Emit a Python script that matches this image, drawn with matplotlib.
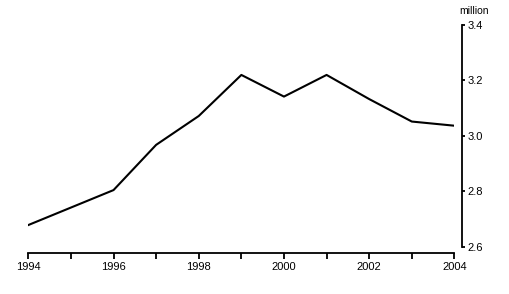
import matplotlib
matplotlib.use("Agg")
import matplotlib.pyplot as plt

# -----------------------------
# Data
# -----------------------------
years = [1994, 1995, 1996, 1997, 1998, 1999, 2000, 2001, 2002, 2003, 2004]
values = [2.679, 2.742, 2.805, 2.968, 3.072, 3.220, 3.142, 3.220, 3.133, 3.052, 3.037]
year_labels = ["1994", "", "1996", "", "1998", "", "2000", "", "2002", "", "2004"]
y_ticks = [2.6, 2.8, 3.0, 3.2, 3.4]

plt.rcParams["font.family"] = ["Liberation Sans", "DejaVu Sans"]

fig = plt.figure(figsize=(5.10, 2.94), dpi=100)
ax = fig.add_axes([0.0555, 0.160, 0.8355, 0.755])

ax.plot(years, values, color="black", linewidth=1.5)

ax.set_xlim(1994, 2004)
ax.set_ylim(2.6, 3.4)

# Spines: bottom and right only, offset from the data area
ax.spines["top"].set_visible(False)
ax.spines["left"].set_visible(False)
ax.spines["bottom"].set_position(("outward", 4.3))
ax.spines["right"].set_position(("outward", 5.5))
ax.spines["bottom"].set_linewidth(1.3)
ax.spines["right"].set_linewidth(1.3)

ax.set_xticks(years)
ax.set_xticklabels(year_labels)
ax.tick_params(axis="x", direction="out", length=4.5, width=1.3, labelsize=8, pad=2)

ax.yaxis.tick_right()
ax.set_yticks(y_ticks)
ax.set_yticklabels([f"{v:.1f}" for v in y_ticks])
ax.tick_params(axis="y", direction="out", length=2.5, width=1.3, labelsize=8, pad=1.5)

ax.text(1.047, 1.04, "million", transform=ax.transAxes, fontsize=7.5,
        ha="center", va="bottom")

fig.savefig("out.png", dpi=100)
